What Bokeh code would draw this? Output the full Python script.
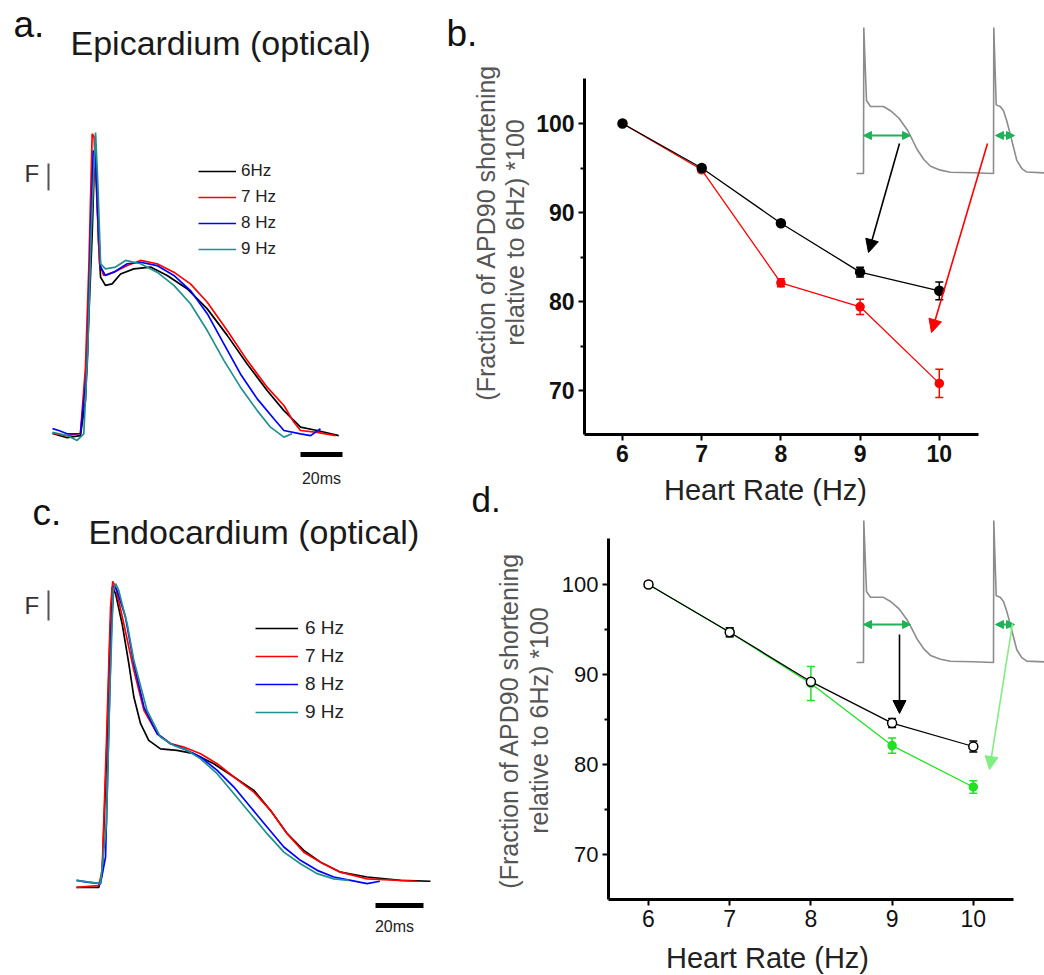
import numpy as np
from bokeh.plotting import figure
from bokeh.models import (Range1d, Label, Arrow, NormalHead, TeeHead, Whisker,
                          ColumnDataSource, FixedTicker, Legend, LegendItem)
from bokeh.layouts import row, column
from bokeh.embed import file_html
from bokeh.resources import INLINE

FONT = "Liberation Sans"

# ------------------------------------------------------------------ data
heart_rate_hz = [6, 7, 8, 9, 10]
apd_major_ticks = [70, 80, 90, 100]
apd_minor_ticks = [75, 85, 95]

# panel b (epicardium): APD90 relative to 6 Hz (*100)
epi_black = [100.0, 95.0, 88.8, 83.3, 81.2]
epi_black_err = [0.2, 0.3, 0.3, 0.55, 1.0]
epi_red = [100.0, 94.8, 82.1, 79.4, 70.8]
epi_red_err = [0.2, 0.3, 0.45, 0.85, 1.6]

# panel d (endocardium)
endo_black = [100.0, 94.7, 89.2, 84.6, 82.0]
endo_black_err = [0.3, 0.5, 0.3, 0.5, 0.6]
endo_green = [100.0, 94.7, 89.0, 82.1, 77.5]
endo_green_err = [0.3, 0.5, 1.9, 0.85, 0.7]

trace_labels_epi = ["6Hz", "7 Hz", "8 Hz", "9 Hz"]
trace_labels_endo = ["6 Hz", "7 Hz", "8 Hz", "9 Hz"]
trace_colors = ["#000000", "#ff0000", "#0000ff", "#1f8f8f"]

# panel a: epicardial optical APs (time ms, normalised fluorescence)
epi_6hz_t = [0, 7.0, 13.3, 15.7, 17.3, 18.9, 20.2, 21.1, 21.9, 22.9, 25.2, 28.4, 32.4, 38.7, 46.7,
             54.6, 64.1, 73.7, 83.2, 92.7, 102.2, 110.2, 118.1, 126.0, 136.3]
epi_6hz_f = [0, -0.014, -0.007, 0.110, 0.387, 0.663, 0.951, 0.818, 0.641, 0.519, 0.492, 0.497, 0.530,
             0.547, 0.553, 0.525, 0.481, 0.414, 0.326, 0.231, 0.143, 0.076, 0.021, 0.010, -0.007]
epi_7hz_t = [0, 7.0, 13.3, 15.7, 17.3, 18.9, 19.8, 21.3, 22.4, 24.4, 29.2, 35.6, 41.9, 49.8, 57.8,
             65.7, 73.7, 83.2, 92.7, 102.2, 110.2, 114.9, 118.1, 126.0, 134.8]
epi_7hz_f = [0.001, -0.007, 0.0, 0.220, 0.553, 0.996, 0.985, 0.752, 0.564, 0.525, 0.536, 0.558, 0.575,
             0.564, 0.536, 0.497, 0.436, 0.342, 0.243, 0.154, 0.093, 0.038, 0.010, 0.004, -0.007]
epi_8hz_t = [0, 3.0, 7.0, 13.3, 16.5, 18.1, 19.4, 20.5, 21.6, 22.9, 25.2, 29.2, 35.6, 41.9, 49.8,
             57.8, 65.7, 73.7, 81.6, 89.5, 97.5, 105.4, 110.2, 118.1, 122.9, 127.6]
epi_8hz_f = [0.016, 0.010, -0.001, 0.0, 0.220, 0.663, 0.940, 0.918, 0.719, 0.553, 0.525, 0.536, 0.564,
             0.569, 0.558, 0.525, 0.475, 0.398, 0.298, 0.198, 0.115, 0.049, 0.010, -0.001, -0.007, 0.016]
epi_9hz_t = [0, 7.0, 11.7, 14.9, 16.8, 18.4, 20.5, 21.6, 22.9, 25.2, 30.0, 34.8, 41.9, 49.8, 57.8,
             65.7, 73.7, 81.6, 89.5, 97.5, 103.8, 110.2, 114.1]
epi_9hz_f = [0.004, -0.007, -0.023, -0.001, 0.276, 0.663, 1.0, 0.829, 0.564, 0.547, 0.553, 0.575,
             0.564, 0.536, 0.492, 0.431, 0.342, 0.243, 0.154, 0.076, 0.021, -0.012, -0.001]

# panel c: endocardial optical APs
endo_6hz_t = [0, 9.3, 10.7, 12.5, 13.9, 14.9, 16.3, 19.0, 21.8, 23.9, 26.7, 30.1, 35.0, 41.9, 48.9,
              57.2, 65.6, 73.9, 80.8, 87.8, 94.7, 101.7, 110.0, 121.1, 135.0, 147.5]
endo_6hz_f = [-0.006, -0.006, 0.039, 0.424, 0.809, 0.985, 0.963, 0.864, 0.732, 0.622, 0.534, 0.479,
              0.451, 0.446, 0.435, 0.402, 0.358, 0.314, 0.248, 0.171, 0.116, 0.077, 0.044, 0.028,
              0.017, 0.014]
endo_7hz_t = [0, 9.3, 10.7, 12.5, 14.2, 15.1, 16.3, 19.7, 23.9, 28.1, 33.6, 39.2, 44.7, 51.7, 58.6,
              65.6, 73.9, 80.8, 87.8, 94.7, 101.7, 110.0, 121.1, 141.9]
endo_7hz_f = [-0.006, 0.0, 0.050, 0.479, 0.919, 1.004, 0.985, 0.864, 0.710, 0.578, 0.501, 0.468,
              0.457, 0.435, 0.402, 0.358, 0.308, 0.248, 0.171, 0.110, 0.077, 0.044, 0.022, 0.014]
endo_8hz_t = [0, 4.4, 10.0, 12.1, 13.5, 14.6, 15.6, 16.9, 20.4, 23.9, 28.1, 33.6, 39.2, 44.7, 51.7,
              58.6, 65.6, 72.5, 79.4, 86.4, 93.3, 100.3, 107.2, 114.2, 121.1, 126.4]
endo_8hz_f = [0.017, 0.011, 0.006, 0.094, 0.534, 0.864, 0.990, 0.974, 0.886, 0.732, 0.589, 0.501,
              0.468, 0.451, 0.424, 0.380, 0.325, 0.259, 0.193, 0.127, 0.083, 0.050, 0.028, 0.017,
              0.006, 0.014]
endo_9hz_t = [0, 10.0, 12.5, 13.9, 15.3, 16.3, 17.6, 21.1, 23.9, 29.4, 35.0, 40.6, 46.1, 51.7, 58.6,
              65.6, 72.5, 79.4, 86.4, 93.3, 100.3, 107.2, 113.5]
endo_9hz_f = [0.017, 0.006, 0.204, 0.644, 0.974, 0.996, 0.974, 0.864, 0.743, 0.578, 0.490, 0.462,
              0.446, 0.418, 0.369, 0.303, 0.237, 0.171, 0.110, 0.072, 0.039, 0.022, 0.017]

scale_bar_ms = 20

# schematic AP of the insets (time units, level 0..1)
ap_time = [0, 7.0, 7.3, 10.0, 14.0, 27.0, 34.0, 42.3, 50.7, 55.7, 60.7, 67.3, 74.0, 84.0, 94.0, 117.0,
           137.0, 137.3, 139.7, 143.7, 147.0, 150.3, 153.7, 157.0, 160.3, 165.3, 170.3, 188.0]
ap_level = [0, 0, 1.0, 0.50, 0.459, 0.459, 0.43, 0.38, 0.30, 0.233, 0.164, 0.096, 0.05, 0.023, 0.009,
            0.005, 0.0, 1.0, 0.47, 0.459, 0.43, 0.36, 0.27, 0.18, 0.09, 0.034, 0.01, 0.004]


# ------------------------------------------------------------------ helpers
def lin(p0, v0, px_per_unit):
    return lambda p: v0 + (p - p0) / px_per_unit


def label(p, x, y, text, size, color="#1a1a1a", align="left", baseline="middle",
          angle=0.0, style="normal"):
    p.add_layout(Label(x=x, y=y, text=text, text_font=FONT, text_font_size=f"{size}px",
                       text_color=color, text_align=align, text_baseline=baseline,
                       angle=angle, text_font_style=style))


def base_fig(w, h, xr, yr, **kw):
    p = figure(width=w, height=h, x_range=Range1d(*xr), y_range=Range1d(*yr),
               output_backend="svg", toolbar_location=None, **kw)
    p.outline_line_color = None
    p.background_fill_color = "white"
    p.border_fill_color = "white"
    p.grid.visible = False
    return p


def strip(x0, y0, w, h, top=0, bottom=0):
    """empty figure whose data coordinates equal page pixels (for texts)"""
    return base_fig(w, h, (x0, x0 + w), (y0 + h - bottom, y0 + top),
                    x_axis_type=None, y_axis_type=None, min_border_left=0, min_border_right=0,
                    min_border_top=top, min_border_bottom=bottom)


def trace_panel(w, h, page_x0, page_y0, X, Y, series, labels, letter, title, letter_pos, title_pos,
                legend_loc, legend_kw, sb_px, sb_py, sb_lbl, F_pos, F_bar, letter_baseline):
    p = base_fig(w, h, (X(page_x0), X(page_x0 + w)), (Y(page_y0 + h), Y(page_y0)),
                 x_axis_type=None, y_axis_type=None, min_border=0)
    items = []
    for (t, f), col, lab in zip(series, trace_colors, labels):
        r = p.line(t, f, line_color=col, line_width=1.7)
        items.append(LegendItem(label=lab, renderers=[r]))
    lg = Legend(items=items, location=legend_loc, padding=0, margin=0, border_line_color=None,
                background_fill_alpha=0, label_text_font=FONT, spacing=6, glyph_height=20,
                label_height=20, label_text_color="#222", **legend_kw)
    p.add_layout(lg)
    x0 = X(sb_px)
    p.segment(x0=[x0], x1=[x0 + scale_bar_ms], y0=[Y(sb_py)], y1=[Y(sb_py)],
              line_color="black", line_width=5)
    label(p, X(sb_lbl[0]), Y(sb_lbl[1]), f"{scale_bar_ms}ms", 16, color="#222", align="center")
    label(p, X(F_pos[0]), Y(F_pos[1]), "F", 24, color="#333")
    p.segment(x0=[X(F_bar[0])], x1=[X(F_bar[0])], y0=[Y(F_bar[1])], y1=[Y(F_bar[2])],
              line_color="#555", line_width=2)
    label(p, X(letter_pos[0]), Y(letter_pos[1]), letter, 37, color="#111",
          baseline=letter_baseline)
    label(p, X(title_pos[0]), Y(title_pos[1]), title, 34, color="#1a1a1a")
    return p


def apd_panel(w, h, page_x0, page_y0, frame, X, Y, grey, grey_err, col, col_err, colour,
              open_black, inset_x0, inset_base, inset_amp, arrows, tick_style, xtick_size,
              ytick_size):
    fl, fr, ft, fb = frame
    p = base_fig(w, h, (X(fl), X(fr)), (Y(fb), Y(ft)),
                 min_border_left=fl - page_x0, min_border_right=page_x0 + w - fr,
                 min_border_top=ft - page_y0, min_border_bottom=page_y0 + h - fb)
    for ax in (p.xaxis[0], p.yaxis[0]):
        ax.axis_line_width = 3
        ax.axis_line_color = "black"
        ax.major_tick_line_width = 2
        ax.major_tick_out = 6
        ax.major_tick_in = 0
        ax.minor_tick_line_width = 2
        ax.minor_tick_out = 4
        ax.minor_tick_in = 0
        ax.major_label_text_font = FONT
        ax.major_label_text_color = "#111"
        ax.major_label_text_font_style = tick_style
    p.xaxis.ticker = FixedTicker(ticks=heart_rate_hz)
    p.yaxis.ticker = FixedTicker(ticks=apd_major_ticks, minor_ticks=apd_minor_ticks)
    p.xaxis.bounds = (X(fl), 10.5)
    p.yaxis.bounds = (Y(fb), 105.1)
    p.xaxis.major_label_text_font_size = f"{xtick_size}px"
    p.yaxis.major_label_text_font_size = f"{ytick_size}px"
    p.xaxis.major_label_standoff = 4
    p.yaxis.major_label_standoff = 4

    def series(vals, errs, c, fill, size):
        src = ColumnDataSource(dict(x=heart_rate_hz, y=vals,
                                    upper=[v + e for v, e in zip(vals, errs)],
                                    lower=[v - e for v, e in zip(vals, errs)]))
        p.line("x", "y", source=src, line_color=c, line_width=1.3)
        p.add_layout(Whisker(source=src, base="x", upper="upper", lower="lower", line_color=c,
                             line_width=1.5,
                             upper_head=TeeHead(size=8, line_color=c, line_width=1.5),
                             lower_head=TeeHead(size=8, line_color=c, line_width=1.5)))
        p.scatter("x", "y", source=src, size=size, fill_color=fill, line_color=c, line_width=1.5)

    series(col, col_err, colour, colour, 8)
    series(grey, grey_err, "black", "white" if open_black else "black", 9)

    xs = [X(inset_x0 + t) for t in ap_time]
    ys = [Y(inset_base - inset_amp * v) for v in ap_level]
    p.line(xs, ys, line_color="#8c8c8c", line_width=1.6)
    gy = inset_base - 38
    for a, b in ((863, 910), (995, 1014)):
        p.add_layout(Arrow(x_start=X(a), y_start=Y(gy), x_end=X(b), y_end=Y(gy),
                           line_color="#20b25a", line_width=2,
                           start=NormalHead(size=8, fill_color="#20b25a", line_color="#20b25a"),
                           end=NormalHead(size=8, fill_color="#20b25a", line_color="#20b25a")))
    for (x0, y0, x1, y1, c) in arrows:
        p.add_layout(Arrow(x_start=X(x0), y_start=Y(y0), x_end=X(x1), y_end=Y(y1),
                           line_color=c, line_width=1.6,
                           end=NormalHead(size=13, fill_color=c, line_color=c)))
    return p


def ylabel_strip(x0, y0, w, h, top, bottom, letter, letter_pos, lx1, lx2, ly):
    s = strip(x0, y0, w, h, top, bottom)
    if letter:
        label(s, letter_pos[0], letter_pos[1], letter, 37, color="#111", baseline="top")
    label(s, lx1, ly, "(Fraction of APD90 shortening", 25, color="#555",
          align="center", angle=np.pi / 2)
    label(s, lx2, ly, "relative to 6Hz) *100", 25, color="#555",
          align="center", angle=np.pi / 2)
    return s


# ------------------------------------------------------------------ panels
# a (page x 0..440, y 0..490)
Xa, Ya = lin(52, 0, 2.1), lin(433, 0, -301)
pa = trace_panel(440, 490, 0, 0, Xa, Ya,
                 [(epi_6hz_t, epi_6hz_f), (epi_7hz_t, epi_7hz_f), (epi_8hz_t, epi_8hz_f),
                  (epi_9hz_t, epi_9hz_f)],
                 trace_labels_epi, "a.", "Epicardium (optical)", (13, 24), (70, 42.5),
                 (198, 231), dict(glyph_width=38, label_standoff=5, label_text_font_size="17px"),
                 300, 454, (321, 478), (24, 173), (48, 163, 190), "middle")

# c (page x 0..440, y 490..975)
Xc, Yc = lin(76, 0, 2.4), lin(885, 0, -303)
pc = trace_panel(440, 485, 0, 490, Xc, Yc,
                 [(endo_6hz_t, endo_6hz_f), (endo_7hz_t, endo_7hz_f), (endo_8hz_t, endo_8hz_f),
                  (endo_9hz_t, endo_9hz_f)],
                 trace_labels_endo, "c.", "Endocardium (optical)", (32, 491), (88, 531),
                 (255, 252), dict(glyph_width=43, label_standoff=7, label_text_font_size="19px"),
                 375, 905, (394, 926), (24, 605), (48, 590, 620), "top")

# b: label strip (x 440..531) + plot (x 531..1044), y 0..473
Xb, Yb = lin(622, 6, 79.2), lin(123, 100, -8.9)
sb = ylabel_strip(440, 0, 91, 473, 12, 39, "b.", (446, 12), 485, 514, 232)
pb = apd_panel(513, 473, 531, 0, (584, 1044, 12, 434), Xb, Yb,
               epi_black, epi_black_err, epi_red, epi_red_err, "#ff0000", False,
               856, 173, 146,
               [(899, 143, 868, 252, "black"), (987, 143, 931, 332, "#ff0000")],
               "bold", 23, 23)

# middle strip (y 473..519): x-label of b and letter d
sm = strip(440, 473, 604, 46)
label(sm, 765, 489, "Heart Rate (Hz)", 29, color="#222", align="center")
label(sm, 471, 518, "d.", 35, color="#111", baseline="bottom")

# d: label strip (x 440..555) + plot (x 555..1044), y 519..940
Xd, Yd = lin(648, 6, 81.2), lin(584, 100, -9.0)
sd = ylabel_strip(440, 519, 115, 421, 0, 41, None, None, 508, 538, 720)
pd = apd_panel(489, 421, 555, 519, (608, 1044, 519, 899), Xd, Yd,
               endo_black, endo_black_err, endo_green, endo_green_err, "#22e022", True,
               856, 662, 142,
               [(899, 634, 899, 713, "black"), (1012, 623, 989, 769, "#80ee80")],
               "normal", 23, 22)

# bottom strip (y 940..975): x-label of d
sbot = strip(440, 940, 604, 35)
label(sbot, 767, 957, "Heart Rate (Hz)", 29, color="#222", align="center")

layout = row(column(pa, pc), column(row(sb, pb), sm, row(sd, pd), sbot))
open("out.html", "w").write(file_html(layout, INLINE))
